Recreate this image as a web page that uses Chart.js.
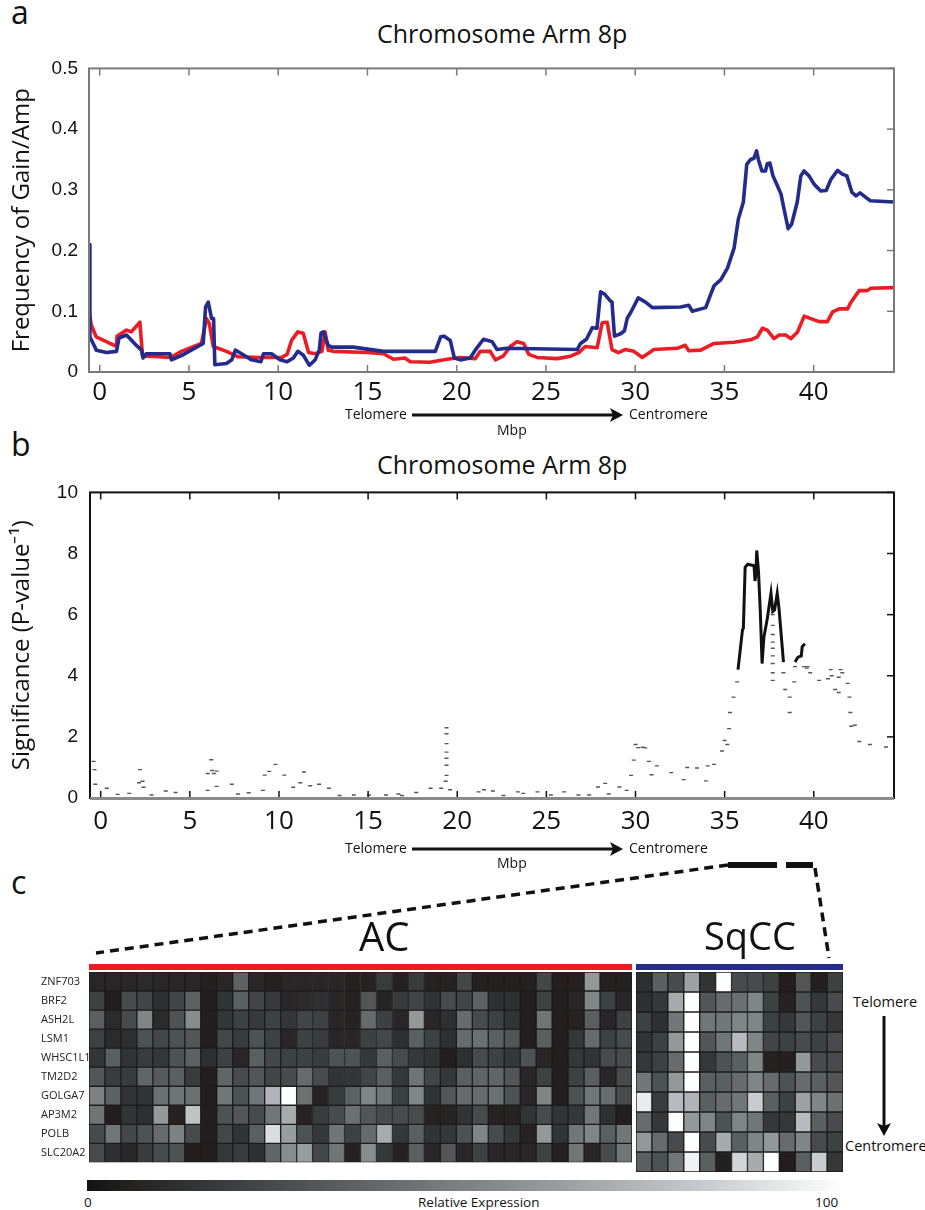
<!DOCTYPE html>
<html>
<head>
<meta charset="utf-8">
<script src="https://cdn.jsdelivr.net/npm/chart.js@4.4.0/dist/chart.umd.min.js"></script>
<style>
  body { margin: 0; background: #fff; width: 925px; height: 1210px; position: relative; overflow: hidden;
         font-family: "Open Sans", sans-serif; color: #111; }
  .box { position: absolute; }
  .txt { position: absolute; white-space: nowrap; line-height: 1; }
  svg { position: absolute; left: 0; top: 0; pointer-events: none; }
</style>
</head>
<body>

<div class="txt" style="left:11px;top:-4px;font-size:32px;">a</div>
<div class="txt" style="left:11px;top:428px;font-size:32px;">b</div>
<div class="txt" style="left:11px;top:866px;font-size:32px;">c</div>

<div class="txt" style="left:377px;top:21px;font-size:25px;">Chromosome Arm 8p</div>
<div class="txt" style="left:377px;top:452px;font-size:25px;">Chromosome Arm 8p</div>

<div class="box" style="left:0;top:54px;width:925px;height:362px;"><canvas id="freqChart"></canvas></div>
<div class="box" style="left:0;top:477px;width:925px;height:365px;"><canvas id="sigChart"></canvas></div>
<div class="box" style="left:41px;top:955px;width:591px;height:217px;"><canvas id="acChart"></canvas></div>
<div class="box" style="left:636px;top:955px;width:207px;height:217px;"><canvas id="sqChart"></canvas></div>

<div class="txt" style="left:345px;top:407px;font-size:14px;">Telomere</div>
<div class="txt" style="left:629px;top:407px;font-size:14px;">Centromere</div>
<div class="txt" style="left:497px;top:423px;font-size:14px;">Mbp</div>
<div class="txt" style="left:345px;top:841px;font-size:14px;">Telomere</div>
<div class="txt" style="left:629px;top:841px;font-size:14px;">Centromere</div>
<div class="txt" style="left:497px;top:856px;font-size:14px;">Mbp</div>

<div class="txt" style="left:359px;top:916px;font-size:40px;">AC</div>
<div class="txt" style="left:704px;top:916px;font-size:38px;">SqCC</div>

<div class="txt" style="left:853px;top:995px;font-size:14.5px;">Telomere</div>
<div class="txt" style="left:845px;top:1139px;font-size:14.5px;">Centromere</div>

<div id="cbar" class="box" style="left:87px;top:1180px;width:756px;height:11px;"></div>
<div class="txt" style="left:84px;top:1196px;font-size:13.5px;">0</div>
<div class="txt" style="left:418px;top:1196px;font-size:13.5px;">Relative Expression</div>
<div class="txt" style="left:815px;top:1196px;font-size:13.5px;">100</div>

<svg width="925" height="1210">
  <g stroke="#111" stroke-width="3" fill="#111">
    <line x1="412" y1="415" x2="614" y2="415"/>
    <polygon points="623,415 610,408 613,415 610,422" stroke="none"/>
    <line x1="412" y1="849" x2="614" y2="849"/>
    <polygon points="623,849 610,842 613,849 610,856" stroke="none"/>
    <line x1="884" y1="1016" x2="884" y2="1126"/>
    <polygon points="884,1136 877,1123 884,1126 891,1123" stroke="none"/>
  </g>
  <g stroke="#111" fill="none">
    <line x1="728" y1="865" x2="777" y2="865" stroke-width="6"/>
    <line x1="786" y1="865" x2="813" y2="865" stroke-width="6"/>
    <line x1="728" y1="865" x2="96" y2="953" stroke-width="3.5" stroke-dasharray="9 6"/>
    <line x1="815" y1="868" x2="829" y2="958" stroke-width="3.5" stroke-dasharray="9 6"/>
  </g>
</svg>

<script>
// ---- panel a: frequency of gain/amp along 8p (Mbp) ----
const sqccFreqX = [-0.6, -0.55, -0.19, 0.38, 0.94, 1.08, 1.5, 1.98, 2.34, 2.43, 2.6, 3.93, 4.02, 4.58, 5.8, 5.93, 6.08, 6.27, 6.38, 6.45,
  7.1, 7.4, 7.6, 7.95, 8.5, 9.03, 9.17, 9.63, 10.1, 10.5, 10.85, 11.1, 11.4, 11.75, 12.07, 12.3, 12.4, 12.53, 12.8, 13.0,
  14.2, 15.9, 18.8, 19.1, 19.3, 19.64, 19.87, 20.2, 20.76, 21.04, 21.5, 21.98, 22.26, 22.8, 26.75, 26.94, 27.27, 27.6, 27.86, 28.06,
  28.3, 28.58, 28.7, 28.84, 29.18, 29.4, 29.56, 29.75, 30.17, 30.58, 30.96, 32.55, 33.0, 33.2, 33.95, 34.23, 34.42, 34.8, 35.17, 35.54,
  35.78, 36.06, 36.25, 36.47, 36.65, 36.8, 36.9, 37.1, 37.3, 37.4, 37.55, 37.72, 37.95, 38.17, 38.32, 38.57, 38.76, 39.08, 39.28, 39.46,
  39.74, 40.03, 40.4, 40.7, 40.96, 41.34, 41.6, 41.86, 42.14, 42.37, 42.6, 42.9, 43.17, 44.5];
const sqccFreqY = [0.21, 0.058, 0.036, 0.032, 0.034, 0.056, 0.061, 0.046, 0.036, 0.023, 0.03, 0.03, 0.02, 0.027, 0.047, 0.107, 0.115, 0.088, 0.088, 0.012,
  0.014, 0.02, 0.036, 0.03, 0.02, 0.017, 0.03, 0.03, 0.02, 0.017, 0.023, 0.034, 0.028, 0.011, 0.02, 0.036, 0.064, 0.066, 0.044, 0.041,
  0.041, 0.034, 0.034, 0.058, 0.059, 0.052, 0.023, 0.02, 0.023, 0.036, 0.054, 0.05, 0.037, 0.039, 0.037, 0.047, 0.054, 0.073, 0.072, 0.132,
  0.128, 0.118, 0.115, 0.059, 0.063, 0.068, 0.089, 0.098, 0.122, 0.115, 0.106, 0.107, 0.11, 0.1, 0.106, 0.128, 0.142, 0.152, 0.171, 0.204,
  0.252, 0.28, 0.342, 0.35, 0.352, 0.364, 0.35, 0.331, 0.331, 0.343, 0.344, 0.323, 0.308, 0.293, 0.271, 0.236, 0.243, 0.28, 0.323, 0.331,
  0.323, 0.309, 0.298, 0.299, 0.317, 0.332, 0.326, 0.323, 0.296, 0.29, 0.295, 0.288, 0.282, 0.28];

const acFreqX = [-0.6, -0.47, -0.2, 0.94, 0.97, 1.5, 1.77, 2.1, 2.25, 2.4, 2.8, 4.0, 4.58, 5.7, 5.98, 6.14, 6.36, 7.1, 7.76, 9.0,
  10.2, 10.5, 10.75, 11.1, 11.4, 11.7, 12.07, 12.45, 12.63, 12.8, 13.1, 14.97, 15.9, 16.46, 17.1, 17.4, 18.5, 19.46, 20.2, 21.04,
  21.32, 21.88, 22.17, 22.6, 23.0, 23.38, 23.75, 24.04, 24.5, 25.63, 26.38, 26.84, 27.2, 27.87, 28.15, 28.43, 28.7, 29.06, 29.43, 29.93,
  30.4, 30.7, 31.05, 32.36, 32.8, 33.0, 33.67, 34.42, 35.54, 36.47, 36.85, 37.13, 37.4, 37.78, 38.06, 38.43, 38.72, 39.1, 39.47, 39.84,
  40.3, 40.77, 41.06, 41.43, 41.9, 42.09, 42.55, 43.0, 43.2, 44.5];
const acFreqY = [0.101, 0.077, 0.058, 0.042, 0.059, 0.069, 0.066, 0.077, 0.082, 0.026, 0.026, 0.024, 0.034, 0.047, 0.088, 0.08, 0.042, 0.034, 0.025, 0.024,
  0.024, 0.029, 0.052, 0.066, 0.064, 0.032, 0.03, 0.034, 0.066, 0.036, 0.034, 0.032, 0.03, 0.021, 0.023, 0.017, 0.016, 0.021, 0.024, 0.022,
  0.034, 0.034, 0.02, 0.026, 0.042, 0.05, 0.047, 0.029, 0.024, 0.022, 0.026, 0.032, 0.042, 0.04, 0.081, 0.082, 0.037, 0.032, 0.037, 0.034,
  0.024, 0.03, 0.037, 0.039, 0.044, 0.035, 0.036, 0.047, 0.049, 0.053, 0.058, 0.072, 0.069, 0.055, 0.061, 0.061, 0.055, 0.066, 0.092, 0.088,
  0.083, 0.083, 0.099, 0.104, 0.104, 0.115, 0.134, 0.134, 0.138, 0.139];

// ---- panel b: significance (1/p) ----
const sigDotsX = [-0.4, -0.35, -0.3, 0.34, 0.95, 1.6, 2.2, 2.15, 2.35, 2.4, 2.85, 3.65, 4.2, 6.0, 6.0, 6.2, 6.25, 6.35, 6.5, 6.5,
  7.35, 7.7, 8.3, 9.1, 9.2, 9.45, 9.8, 10.3, 10.8, 11.2, 11.4, 11.75, 12.25, 12.8, 13.4, 14.2, 15.05, 16.0, 16.7, 16.9,
  17.7, 18.5, 19.1, 19.35, 19.4, 19.4, 19.4, 19.4, 19.4, 19.4, 19.4, 19.6, 21.2, 21.5, 22.0, 22.6, 23.4, 23.7, 24.5, 25.25,
  26.0, 26.8, 27.4, 27.9, 28.3, 28.5, 29.1, 29.5, 29.75, 29.9, 30.0, 30.15, 30.4, 30.55, 30.75, 30.9, 31.2, 32.0, 32.7, 32.9,
  33.45, 33.95, 34.05, 34.4, 34.85, 35.0, 35.15, 35.25, 35.3, 35.5, 35.7, 37.7, 37.7, 37.7, 37.7, 37.7, 37.7, 37.7, 37.7, 37.7,
  38.3, 38.4, 38.65, 38.65, 38.9, 38.95, 39.45, 39.6, 39.65, 39.8, 40.3, 40.8, 40.95, 41.0, 41.2, 41.4, 41.4, 41.5, 41.6, 41.9,
  42.0, 42.05, 42.1, 42.3, 42.55, 43.15, 44.05];
const sigDotsY = [1.2, 0.93, 0.45, 0.32, 0.12, 0.15, 0.93, 0.5, 0.55, 0.35, 0.1, 0.23, 0.18, 0.25, 0.8, 1.25, 0.9, 0.8, 0.88, 0.38,
  0.45, 0.13, 0.17, 0.25, 0.75, 0.87, 1.1, 0.75, 0.35, 0.5, 0.85, 0.4, 0.45, 0.32, 0.08, 0.1, 0.1, 0.1, 0.13, 0.08,
  0.18, 0.32, 0.32, 0.55, 2.3, 2.1, 1.78, 1.5, 1.3, 1.07, 0.74, 0.27, 0.2, 0.27, 0.23, 0.08, 0.2, 0.15, 0.2, 0.1,
  0.2, 0.1, 0.1, 0.36, 0.48, 0.13, 0.36, 0.25, 0.74, 1.24, 1.75, 1.65, 1.66, 1.64, 1.2, 0.76, 1.05, 0.83, 0.6, 1.0,
  0.98, 0.56, 1.05, 1.1, 1.54, 1.88, 1.75, 2.27, 2.8, 3.3, 3.8, 6.0, 5.65, 5.35, 5.1, 4.9, 4.65, 4.4, 4.1, 3.85,
  4.1, 3.55, 3.3, 2.8, 3.8, 4.3, 4.3, 4.25, 4.3, 4.1, 3.85, 3.9, 4.2, 4.0, 3.55, 3.45, 3.95, 4.2, 4.1, 3.75,
  3.3, 2.8, 2.35, 2.38, 1.85, 1.75, 1.67];
// significant stretch (solid); null breaks the line
const sigLineX = [35.75, 36.0, 36.05, 36.15, 36.3, 36.65, 36.7, 36.75, 36.8, 36.9, 37.0, 37.1, 37.2, 37.4, 37.6, 37.7, 37.8, 37.95, 38.05, 38.3,
  38.6, 38.95, 39.1, 39.3, 39.35, 39.5];
const sigLineY = [4.2, 5.5, 5.55, 7.55, 7.65, 7.6, 7.1, 7.3, 8.1, 7.4, 6.1, 4.4, 5.25, 5.9, 6.7, 6.1, 6.15, 6.7, 6.2, 4.45,
  null, 4.45, 4.6, 4.65, 4.95, 5.05];

const xTickVals = [0, 5, 10, 15, 20, 25, 30, 35, 40];

// ---- panel c: relative expression (0-100) ----
const genes = ['ZNF703', 'BRF2', 'ASH2L', 'LSM1', 'WHSC1L1', 'TM2D2', 'GOLGA7', 'AP3M2', 'POLB', 'SLC20A2'];
const acExpr = [
  [8,8,8,10,8,8,8,5,8,35,8,5,8,8,8,8,5, 6,18,5,18,6,6,23,5,5,5,5,23,4,5,60,5,5],
  [20,4,25,22,12,22,35,4,14,34,22,17,8,10,12,8,6, 30,7,17,22,14,25,22,35,12,12,4,20,4,8,52,20,8],
  [34,10,25,52,10,28,55,4,15,20,17,20,15,22,20,8,6, 40,20,8,60,8,12,40,25,20,14,4,44,4,6,34,8,20],
  [20,10,12,28,23,28,30,4,23,18,28,20,8,20,18,8,8, 20,23,12,34,20,12,40,42,34,30,4,34,4,16,40,20,25],
  [15,34,14,18,16,28,35,12,20,8,34,23,20,20,18,28,28, 16,34,25,16,14,4,12,25,20,16,28,8,4,16,14,25,25],
  [30,18,18,37,32,34,18,4,37,25,30,22,25,40,25,14,15, 22,34,16,44,22,16,34,37,37,30,8,20,4,20,34,8,25],
  [50,35,14,14,42,44,42,4,45,28,45,72,100,42,6,18,35, 52,45,20,52,14,30,40,40,42,28,8,52,4,28,45,40,25],
  [44,4,14,12,60,6,78,4,28,30,25,45,68,6,18,25,42, 30,25,25,25,6,7,14,25,6,6,14,25,14,16,45,12,4],
  [25,45,23,28,40,50,25,4,23,14,34,88,62,28,16,45,20, 40,68,16,34,14,16,28,52,25,16,6,60,14,45,52,34,45],
  [25,12,8,18,25,28,4,4,16,18,12,37,55,62,23,45,5, 55,16,6,34,8,30,8,20,8,8,8,20,5,45,8,25,45]
];
const sqExpr = [
  [12,34,25,64,14,100,25,25,20,4,30,5,20],
  [12,16,68,100,30,40,42,52,20,6,28,16,25],
  [20,12,45,100,45,45,52,52,20,16,30,20,16],
  [14,20,60,100,30,45,75,52,22,20,25,20,25],
  [16,20,40,100,16,28,34,52,6,5,60,25,25],
  [45,28,60,100,34,34,40,52,40,28,40,34,30],
  [93,18,75,72,34,40,45,82,34,20,64,52,42],
  [40,16,100,60,52,28,52,45,16,16,75,34,25],
  [60,40,25,100,25,68,34,52,60,40,52,25,20],
  [34,28,45,95,34,5,85,68,100,4,34,82,16]
];

// grey colour map used for the cells and the colour bar
const cmapStops = [[0, 30, 20, 20], [6, 38, 34, 34], [16, 52, 56, 57], [52, 128, 133, 135], [82, 200, 204, 208], [100, 255, 255, 255]];
function exprColor(v) {
  for (let i = 1; i < cmapStops.length; i++) {
    const a = cmapStops[i - 1], b = cmapStops[i];
    if (v <= b[0]) {
      const t = (v - a[0]) / (b[0] - a[0]);
      const c = [1, 2, 3].map(k => Math.round(a[k] + t * (b[k] - a[k])));
      return `rgb(${c[0]},${c[1]},${c[2]})`;
    }
  }
  return '#fff';
}
document.getElementById('cbar').style.background = 'linear-gradient(to right, rgb(18,18,18) 0%, ' +
  cmapStops.slice(1).map(s => `rgb(${s[1]},${s[2]},${s[3]}) ${s[0]}%`).join(', ') + ')';

// inward ticks + frame, MATLAB style; x tick labels drawn here at a fixed offset
const frameTicks = {
  id: 'frameTicks',
  afterDatasetsDraw(chart, args, opts) {
    const { ctx, chartArea: a, scales: { x, y } } = chart;
    ctx.save();
    ctx.lineCap = 'butt';
    ctx.strokeStyle = opts.color;
    ctx.lineWidth = 1.5;
    x.ticks.forEach(t => {
      const px = x.getPixelForValue(t.value);
      ctx.beginPath();
      ctx.moveTo(px, a.top); ctx.lineTo(px, a.top + 7);
      ctx.moveTo(px, a.bottom); ctx.lineTo(px, a.bottom - 7);
      ctx.stroke();
    });
    y.ticks.forEach(t => {
      const py = y.getPixelForValue(t.value);
      ctx.beginPath();
      ctx.moveTo(a.right, py); ctx.lineTo(a.right - 7, py);
      ctx.stroke();
    });
    ctx.lineWidth = opts.width;
    ctx.strokeRect(a.left, a.top, a.right - a.left, a.bottom - a.top);
    if (opts.baseColor) {
      ctx.strokeStyle = opts.baseColor;
      ctx.lineWidth = 3;
      ctx.beginPath();
      ctx.moveTo(a.left, a.bottom + 0.5); ctx.lineTo(a.right, a.bottom + 0.5);
      ctx.stroke();
    }
    ctx.fillStyle = '#111';
    ctx.font = '26px "Open Sans"';
    ctx.textAlign = 'center';
    ctx.textBaseline = 'middle';
    x.ticks.forEach(t => {
      const px = x.getPixelForValue(t.value);
      ctx.fillText(String(t.value), px, a.bottom + opts.labelOffset);
    });
    ctx.restore();
  }
};

const pair = (xs, ys) => xs.map((x, i) => ({ x, y: ys[i] }));

function xAxis() {
  return {
    type: 'linear', min: -0.6, max: 44.5,
    afterBuildTicks: s => { s.ticks = xTickVals.map(v => ({ value: v })); },
    afterFit: s => { s.height = 44; },
    grid: { display: false }, border: { display: false },
    ticks: { display: false }
  };
}

new Chart(document.getElementById('freqChart'), {
  type: 'line',
  data: {
    datasets: [
      { label: 'SqCC', data: pair(sqccFreqX, sqccFreqY), borderColor: '#232b8c', borderWidth: 3.6, pointRadius: 0, borderJoinStyle: 'round' },
      { label: 'AC', data: pair(acFreqX, acFreqY), borderColor: '#ec1c24', borderWidth: 3.6, pointRadius: 0, borderJoinStyle: 'round' }
    ]
  },
  options: {
    responsive: true, maintainAspectRatio: false, animation: false,
    layout: { padding: { top: 10, right: 31, left: 0, bottom: 0 } },
    plugins: { legend: { display: false }, tooltip: { enabled: false },
               frameTicks: { color: '#7a7a7a', width: 2, labelOffset: 21 } },
    scales: {
      x: xAxis(),
      y: {
        min: 0, max: 0.5,
        afterFit: s => { s.width = 89; },
        grid: { display: false }, border: { display: false },
        ticks: { stepSize: 0.1, padding: 3, color: '#111', font: { family: 'Liberation Sans', size: 19 },
                 callback: v => v === 0 ? '0' : v.toFixed(1) },
        title: { display: true, text: 'Frequency of Gain/Amp', color: '#111', padding: { top: 8, bottom: 0 },
                 font: { family: 'Open Sans', size: 24 } }
      }
    }
  },
  plugins: [frameTicks]
});

new Chart(document.getElementById('sigChart'), {
  type: 'line',
  data: {
    datasets: [
      { label: 'significant', data: pair(sigLineX, sigLineY), borderColor: '#111', borderWidth: 3, pointRadius: 0, spanGaps: false },
      { label: 'all', data: pair(sigDotsX, sigDotsY), showLine: false, pointStyle: 'line', pointRadius: 2,
        pointBorderWidth: 1.4, pointBorderColor: '#555', pointBackgroundColor: '#555' }
    ]
  },
  options: {
    responsive: true, maintainAspectRatio: false, animation: false,
    layout: { padding: { top: 10, right: 31, left: 0, bottom: 0 } },
    plugins: { legend: { display: false }, tooltip: { enabled: false },
               frameTicks: { color: '#111', width: 2, baseColor: '#8a8a8a', labelOffset: 24 } },
    scales: {
      x: xAxis(),
      y: {
        min: 0, max: 10,
        afterFit: s => { s.width = 90; },
        grid: { display: false }, border: { display: false },
        ticks: { stepSize: 2, padding: 4, color: '#111', font: { family: 'Liberation Sans', size: 19 } },
        title: { display: true, text: 'Significance (P-value\u207B\u00B9)', color: '#111', padding: { top: 8, bottom: 0 },
                 font: { family: 'Open Sans', size: 24 } }
      }
    }
  },
  plugins: [frameTicks]
});

// coloured group bar above each heat map
const headerBar = {
  id: 'headerBar',
  afterDraw(chart, args, opts) {
    const { ctx, chartArea: a } = chart;
    ctx.save();
    ctx.fillStyle = opts.color;
    ctx.fillRect(a.left, a.top - 8, a.right - a.left, 6);
    ctx.restore();
  }
};

function heatChart(id, values, showGenes, barColor) {
  new Chart(document.getElementById(id), {
    type: 'bar',
    data: {
      labels: values[0].map((_, i) => i + 1),
      datasets: genes.map((g, r) => ({
        label: g,
        data: values[r].map(() => 1),
        backgroundColor: values[r].map(exprColor),
        borderColor: '#1c1c1c', borderWidth: 1, borderSkipped: false,
        barPercentage: 1, categoryPercentage: 1
      }))
    },
    options: {
      responsive: true, maintainAspectRatio: false, animation: false,
      layout: { padding: { top: 17, left: 0, right: 0, bottom: 0 } },
      plugins: { legend: { display: false }, tooltip: { enabled: false }, headerBar: { color: barColor } },
      scales: {
        x: { stacked: true, display: false },
        y: {
          stacked: true, reverse: true, min: 0, max: 10, display: showGenes,
          afterBuildTicks: s => { s.ticks = genes.map((g, i) => ({ value: i + 0.5 })); },
          afterFit: s => { if (showGenes) s.width = 48; },
          grid: { display: false }, border: { display: false },
          ticks: { crossAlign: 'far', color: '#222', font: { family: 'Open Sans', size: 11 },
                   callback: v => genes[Math.floor(v)] }
        }
      }
    },
    plugins: [headerBar]
  });
}

heatChart('acChart', acExpr, true, '#ec1c24');
heatChart('sqChart', sqExpr, false, '#262c8c');
</script>
</body>
</html>
